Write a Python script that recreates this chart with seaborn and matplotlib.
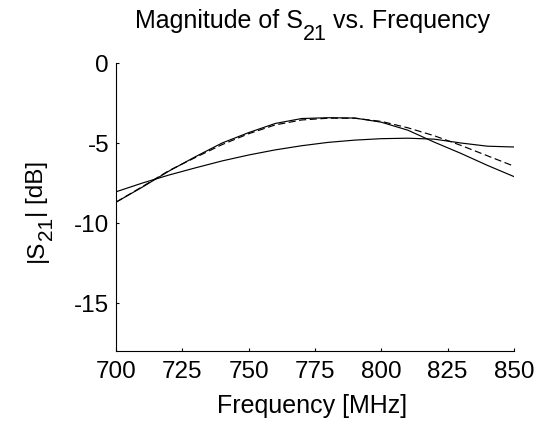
import matplotlib
matplotlib.use("Agg")
import matplotlib.pyplot as plt
from matplotlib.transforms import IdentityTransform
import seaborn as sns
import pandas as pd

freq = [700, 710, 720, 730, 740, 750, 760, 770, 780, 790, 800, 810, 820, 830, 840, 850]
s21_flat = [-8.05, -7.5, -7.0, -6.55, -6.12, -5.75, -5.43, -5.17, -4.96, -4.82, -4.73, -4.70, -4.76, -5.0, -5.2, -5.25]
s21_solid = [-8.7, -7.75, -6.75, -5.85, -5.0, -4.35, -3.78, -3.47, -3.42, -3.44, -3.7, -4.2, -4.95, -5.65, -6.4, -7.1]
s21_dashed = [-8.7, -7.72, -6.72, -5.9, -5.1, -4.42, -3.87, -3.56, -3.45, -3.45, -3.65, -4.05, -4.55, -5.15, -5.8, -6.45]
xticks = [700, 725, 750, 775, 800, 825, 850]
yticks = [0, -5, -10, -15]

sns.set_style("white")
plt.rcParams['font.family'] = ['Liberation Sans', 'DejaVu Sans']

df = pd.DataFrame({
    "f": freq * 3,
    "v": s21_flat + s21_solid + s21_dashed,
    "curve": ["flat"] * len(freq) + ["solid"] * len(freq) + ["dashed"] * len(freq),
})

W, H = 555, 426
fig = plt.figure(figsize=(W / 100, H / 100), dpi=100)
left, right, top, bottom = 116, 514, 63, 351
ax = fig.add_axes([left / W, 1 - bottom / H, (right - left) / W, (bottom - top) / H])
sns.lineplot(data=df, x="f", y="v", style="curve",
             dashes={"flat": "", "solid": "", "dashed": (6, 3)},
             color="black", linewidth=0.85, legend=False, ax=ax)

ax.set_xlim(700, 850)
ax.set_ylim(-18, 0)
ax.set_xticks(xticks)
ax.set_yticks(yticks)
ax.set_xticklabels([str(t) for t in xticks])
ax.set_yticklabels([str(t) for t in yticks])
ax.tick_params(axis="both", direction="in", length=2, width=0.8, labelsize=17.5,
               colors="black", bottom=True, left=True)
ax.tick_params(axis="x", pad=7)
ax.tick_params(axis="y", pad=5)
for s in ["top", "right"]:
    ax.spines[s].set_visible(False)
for s in ["left", "bottom"]:
    ax.spines[s].set_color("black")
    ax.spines[s].set_linewidth(0.8)
ax.set_xlabel("")
ax.set_ylabel("")

renderer = fig.canvas.get_renderer()


def seq_text(pieces, cx, cy, rotation=0):
    """pieces: list of (text, size, shift_px). cx, cy: image pixel coords of
    the center along the text direction and the baseline position."""
    widths = []
    for txt, size, _ in pieces:
        t = fig.text(0, 0, txt, fontsize=size, transform=IdentityTransform())
        bb = t.get_window_extent(renderer)
        widths.append(bb.width)
        t.remove()
    total = sum(widths)
    cum = 0
    for (txt, size, shift), w in zip(pieces, widths):
        if rotation == 0:
            x = cx - total / 2 + cum
            y = H - (cy + shift)
        else:
            x = cx + shift
            y = H - (cy + total / 2) + cum
        fig.text(x, y, txt, fontsize=size, transform=IdentityTransform(),
                 ha="left", va="baseline", rotation=rotation,
                 rotation_mode="anchor", color="black")
        cum += w


seq_text([("Magnitude of S", 18, 0), ("21", 15.5, 12), (" vs. Frequency", 18, 0)],
         312.5, 28)
seq_text([("|S", 17.5, 0), ("21", 15, 9), ("| [dB]", 17.5, 0)],
         43, 211.5, rotation=90)
fig.text(312.5, H - 413, "Frequency [MHz]", fontsize=18, ha="center",
         va="baseline", transform=IdentityTransform(), color="black")

fig.savefig("out.png", dpi=100)
